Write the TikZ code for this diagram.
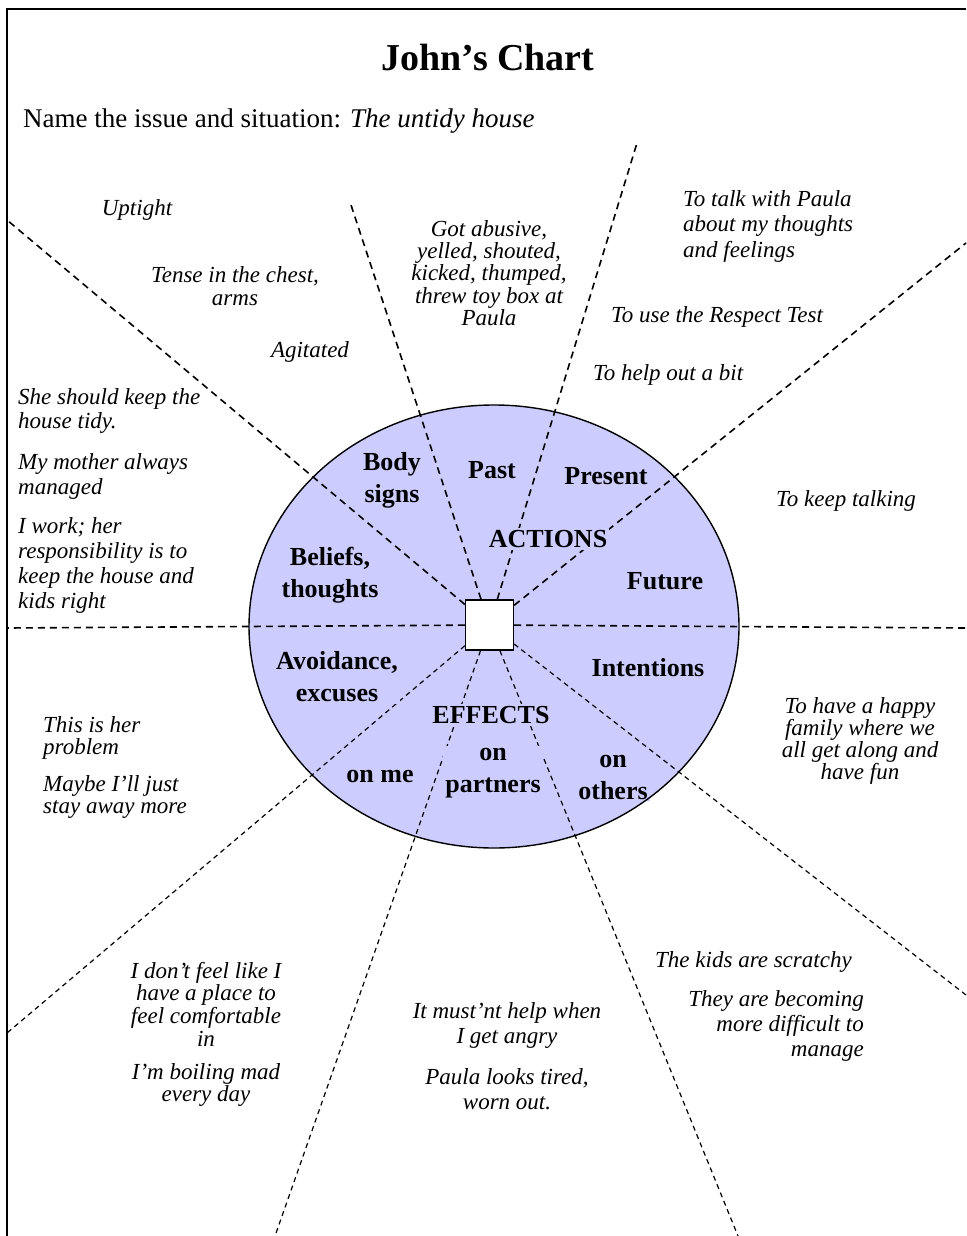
\documentclass[tikz,border=0pt]{standalone}
\usepackage{fontspec}
\setmainfont{Liberation Serif}
\definecolor{wheel}{RGB}{204,204,255}

\begin{document}
\begin{tikzpicture}[x=1pt,y=-1pt,
  sector/.style={font=\bfseries\fontsize{26}{32}\selectfont,align=center,fill=wheel,inner sep=2pt},
  note/.style={font=\itshape\fontsize{23}{23}\selectfont,align=center,inner sep=0pt},
  divider/.style={dash pattern=on 7pt off 5pt,line width=1.6pt},
  thindivider/.style={dash pattern=on 5pt off 4pt,line width=1.2pt}]
\useasboundingbox (0,0) rectangle (966,1236);
\draw[line width=2pt] (7,1236) -- (7,9) -- (966,9);
\node[font=\bfseries\fontsize{38}{38}\selectfont] (title) at (488,58) {John's Chart};
\node[anchor=west,inner sep=0pt,font=\fontsize{27}{27}\selectfont] (issue) at (23,121)
  {Name the issue and situation: \textit{The untidy house}};

% the wheel
\fill[wheel] (494,626.5) ellipse [x radius=245pt,y radius=221.5pt];
\node[draw,fill=white,line width=1.4pt,minimum width=48pt,minimum height=50pt,inner sep=0pt] (hub) at (489.5,625) {};
\coordinate (nw) at (7,220);    \coordinate (nnw) at (351,205);
\coordinate (nne) at (637,143); \coordinate (ne) at (966,243);
\coordinate (e) at (966,628);   \coordinate (se) at (966,995);
\coordinate (sse) at (738,1236);\coordinate (ssw) at (275,1236);
\coordinate (sw) at (7,1033);   \coordinate (w) at (7,628);
\foreach \p in {nw,nnw,nne,ne,e,w}
  \draw[divider] (hub) -- (\p);
\foreach \p in {se,sse,ssw,sw}
  \draw[thindivider] (hub) -- (\p);

\foreach \n/\c/\lbl in {body/{392,480}/{Body\\signs},past/{492,470}/{Past},
    present/{606,476}/{Present},actions/{548,539}/{ACTIONS},
    beliefs/{330,575}/{Beliefs,\\thoughts},future/{665,581}/{Future},
    avoid/{337,677}/{Avoidance,\\excuses},intent/{648,668}/{Intentions},
    effects/{491,715}/{EFFECTS},partners/{493,773}/{on\\partners},
    onme/{380,776}/{on me},others/{613,777}/{on\\others}}
  \node[sector] (\n) at (\c) {\lbl};
\draw[line width=1.4pt] (494,626.5) ellipse [x radius=245pt,y radius=221.5pt];

% what John wrote
\node[note] (uptight) at (137,210) {Uptight};
\node[note] (tense) at (235,286) {Tense in the chest,\\arms};
\node[note] (agitated) at (310,352) {Agitated};
\node[note,font=\itshape\fontsize{23}{22.3}\selectfont] (abusive) at (489,273)
  {Got abusive,\\yelled, shouted,\\kicked, thumped,\\threw toy box at\\Paula};
\node[note,anchor=west,align=left,font=\itshape\fontsize{23}{25.5}\selectfont] (talk) at (683,226)
  {To talk with Paula\\about my thoughts\\and feelings};
\node[note,anchor=west] (respect) at (611,317) {To use the Respect Test};
\node[note,anchor=west] (helpout) at (593,375) {To help out a bit};
\node[note,anchor=west] (keeptalk) at (776,501) {To keep talking};
\node[note,anchor=west,align=left,font=\itshape\fontsize{23}{24}\selectfont] (tidy) at (18,411)
  {She should keep the\\house tidy.};
\node[note,anchor=west,align=left,font=\itshape\fontsize{23}{25}\selectfont] (mother) at (18,476)
  {My mother always\\managed};
\node[note,anchor=west,align=left,font=\itshape\fontsize{23}{25}\selectfont] (work) at (18,565)
  {I work; her\\responsibility is to\\keep the house and\\kids right};
\node[note,font=\itshape\fontsize{23}{22}\selectfont] (happy) at (860,741)
  {To have a happy\\family where we\\all get along and\\have fun};
\node[note,anchor=west,align=left,font=\itshape\fontsize{23}{22}\selectfont] (herproblem) at (43,738)
  {This is her\\problem};
\node[note,anchor=west,align=left,font=\itshape\fontsize{23}{22}\selectfont] (stayaway) at (43,797)
  {Maybe I'll just\\stay away more};
\node[note,font=\itshape\fontsize{23}{22.7}\selectfont] (noplace) at (206,1004)
  {I don't feel like I\\have a place to\\feel comfortable\\in};
\node[note,font=\itshape\fontsize{23}{22}\selectfont] (boiling) at (206,1085) {I'm boiling mad\\every day};
\node[note,font=\itshape\fontsize{23}{25}\selectfont] (mustnt) at (507,1025) {It must'nt help when\\I get angry};
\node[note,font=\itshape\fontsize{23}{25}\selectfont] (tired) at (507,1089) {Paula looks tired,\\worn out.};
\node[note,anchor=west] (scratchy) at (655,962) {The kids are scratchy};
\node[note,anchor=east,align=right,font=\itshape\fontsize{23}{25}\selectfont] (difficult) at (864,1026)
  {They are becoming\\more difficult to\\manage};
\end{tikzpicture}
\end{document}
